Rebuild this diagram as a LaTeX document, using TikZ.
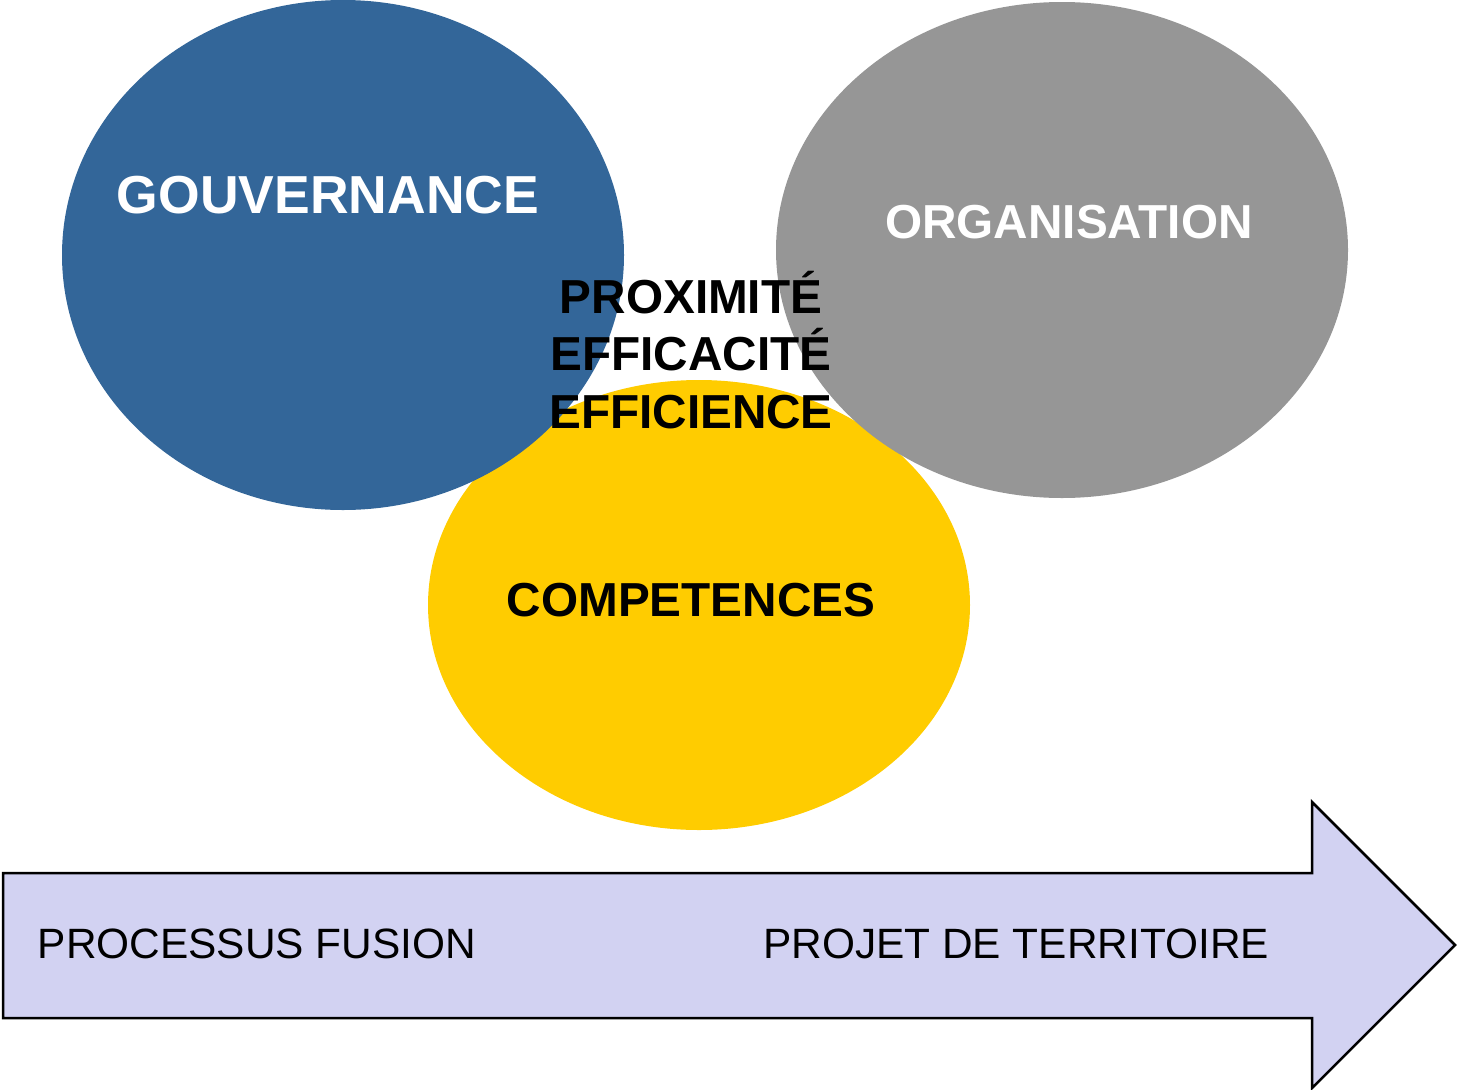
\documentclass[tikz,border=0pt]{standalone}
\usepackage{fontspec}
\setmainfont{Liberation Sans}
\definecolor{govblue}{HTML}{336699}
\definecolor{orggray}{HTML}{969696}
\definecolor{compyellow}{HTML}{FFCC00}
\definecolor{arrowfill}{HTML}{D2D2F2}
\begin{document}
\begin{tikzpicture}[x=1pt,y=-1pt,
  bigtitle/.style={font=\bfseries\fontsize{53.5}{60}\selectfont},
  midtitle/.style={font=\bfseries\fontsize{47.7}{57.5}\selectfont},
  plain/.style={font=\fontsize{42.4}{50}\selectfont, text=black}]
\useasboundingbox (0,0) rectangle (1457,1090);
% yellow first (under)
\fill[compyellow] (699,605) ellipse [x radius=271, y radius=225];
\fill[govblue] (343,255) ellipse [x radius=281, y radius=255];
\fill[orggray] (1062,250) ellipse [x radius=286, y radius=248];
\node[bigtitle, text=white] (gov) at (328,195) {GOUVERNANCE};
\node[midtitle, text=white] (org) at (1069,222) {ORGANISATION};
\node[midtitle, text=black, align=center] (mid) at (691,350) {PROXIMITÉ\\EFFICACITÉ\\EFFICIENCE};
\node[midtitle, text=black] (comp) at (691,600) {COMPETENCES};
% arrow
\draw[line width=2.5, fill=arrowfill, line join=miter]
  (3,873) -- (1312,873) -- (1312,802) -- (1455,945) -- (1312,1088) -- (1312,1018) -- (3,1018) -- cycle;
\node[plain] (proc) at (257,944) {PROCESSUS FUSION};
\node[plain] (proj) at (1016,944) {PROJET DE TERRITOIRE};
\end{tikzpicture}
\end{document}
